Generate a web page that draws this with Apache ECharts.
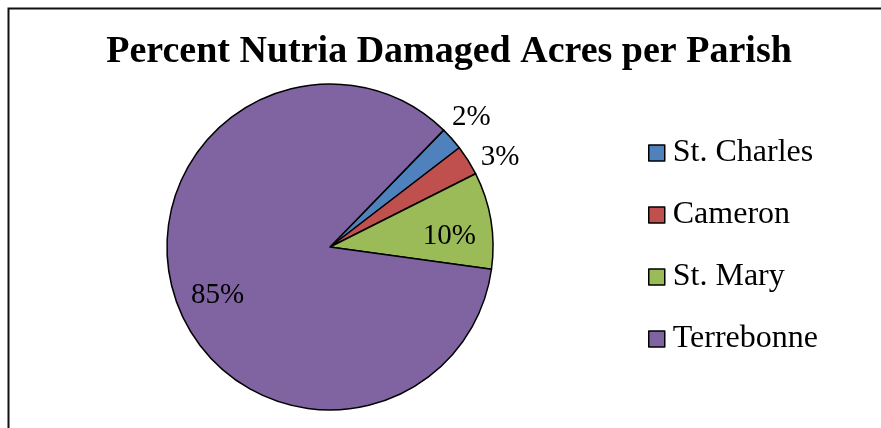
<!DOCTYPE html>
<html>
<head>
<meta charset="utf-8">
<script src="https://cdn.jsdelivr.net/npm/echarts@6/dist/echarts.min.js"></script>
<style>
  html, body { margin: 0; padding: 0; background: #fff; }
  #main { width: 881px; height: 428px; }
</style>
</head>
<body>
<div id="main"></div>
<script>
// parishes and their share of damaged acres (percent)
var parishes = ['St. Charles', 'Cameron', 'St. Mary', 'Terrebonne'];
var shares = [2.3, 3.0, 9.6, 85.1];
var colors = ['#4F81BD', '#C0504D', '#9BBB59', '#8064A2'];
// small slices get their label outside the pie
var outsideNames = ['St. Charles', 'Cameron'];
// small nudges so labels sit where Excel's "best fit" put them
var labelNudge = {
    'St. Charles': [-5, 1],
    'Cameron': [4, 15],
    'St. Mary': [-1, 9],
    'Terrebonne': [3, 9]
};

var serif = "'Liberation Serif', 'Times New Roman', serif";
var center = [330, 247];
var radius = 163;

function pct(p) { return Math.round(p.percent) + '%'; }

function pieData(labelFor) {
    return parishes.map(function (name, i) {
        return {
            name: name,
            value: shares[i],
            label: { show: labelFor(name), offset: labelNudge[name] }
        };
    });
}

var labelStyle = { position: 'inside', formatter: pct, fontFamily: serif, fontSize: 29, color: '#000' };

var myChart = echarts.init(document.getElementById('main'));
myChart.setOption({
    animation: false,
    color: colors,
    title: {
        text: 'Percent Nutria Damaged Acres per Parish',
        left: 444,
        textAlign: 'center',
        top: 28,
        textStyle: { fontFamily: serif, fontSize: 38, fontWeight: 'bold', color: '#000', lineHeight: 38 }
    },
    legend: {
        orient: 'vertical',
        left: 643,
        top: 132,
        itemWidth: 16,
        itemHeight: 16,
        itemGap: 30,
        icon: 'rect',
        selectedMode: false,
        data: parishes,
        textStyle: { fontFamily: serif, fontSize: 32, color: '#000', lineHeight: 32, padding: [0, 0, 0, 3] },
        itemStyle: { borderColor: '#000', borderWidth: 1.5 }
    },
    graphic: [{
        type: 'rect',
        shape: { x: 8.5, y: 8.5, width: 1000, height: 1000 },
        style: { fill: 'none', stroke: '#111', lineWidth: 2 },
        silent: true
    }],
    series: [
        {
            name: 'parishes',
            type: 'pie',
            center: center,
            radius: [0, radius],
            startAngle: 45.8,
            clockwise: true,
            label: { show: false },
            labelLine: { show: false },
            emphasis: { disabled: true },
            itemStyle: { borderColor: '#000', borderWidth: 1.5 },
            data: pieData(function () { return false; })
        },
        {
            name: 'inner labels',
            type: 'pie',
            silent: true,
            center: center,
            radius: [radius * 0.73 - 60, radius * 0.73 + 60],
            startAngle: 45.8,
            avoidLabelOverlap: false,
            itemStyle: { color: 'rgba(0,0,0,0)', borderWidth: 0 },
            emphasis: { disabled: true },
            labelLine: { show: false },
            label: labelStyle,
            data: pieData(function (n) { return outsideNames.indexOf(n) < 0; })
        },
        {
            name: 'outer labels',
            type: 'pie',
            silent: true,
            center: center,
            radius: [radius + 30 - 63, radius + 30 + 63],
            startAngle: 45.8,
            avoidLabelOverlap: false,
            itemStyle: { color: 'rgba(0,0,0,0)', borderWidth: 0 },
            emphasis: { disabled: true },
            labelLine: { show: false },
            label: labelStyle,
            data: pieData(function (n) { return outsideNames.indexOf(n) >= 0; })
        }
    ]
});
</script>
</body>
</html>
